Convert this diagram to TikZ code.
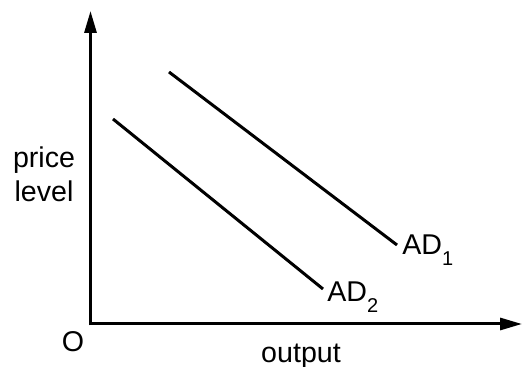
\documentclass[tikz,border=0pt]{standalone}
\usepackage{fontspec}
\setmainfont{Liberation Sans}
\usetikzlibrary{arrows.meta,positioning}

\begin{document}
\begin{tikzpicture}[x=0.5pt,y=-0.5pt,font=\fontsize{14.3}{17}\selectfont,
  axis/.style={line width=1.5pt,-{Triangle[length=11pt,width=6pt]}},
  curve/.style={line width=1.5pt},
  lbl/.style={inner sep=0pt,anchor=base west}]
\useasboundingbox (0,0) rectangle (523,367);
\coordinate (o) at (90.5,324);
\coordinate (ytop) at (90.5,11);
\coordinate (xend) at (522,324);
\draw[axis] ([yshift=-0.75pt]o) -- (ytop);
\draw[axis] ([xshift=-0.75pt]o) -- (xend);
% demand curves
\coordinate (ad1s) at (169,72);
\coordinate (ad1e) at (397,245);
\coordinate (ad2s) at (113,119);
\coordinate (ad2e) at (323,289);
\draw[curve] (ad1s) -- (ad1e);
\draw[curve] (ad2s) -- (ad2e);
\node[lbl] (ad1) at (402,255) {AD\raisebox{-5.5pt}{\fontsize{10}{10}\selectfont 1}};
\node[lbl] (ad2) at (327,302) {AD\raisebox{-5.5pt}{\fontsize{10}{10}\selectfont 2}};
\node[inner sep=0pt] (orig) at (73,342) {O};
\node[inner sep=0pt,anchor=base] (xlbl) at (301,362) {output};
\node[inner sep=0pt,align=center,anchor=base] (ylbl) at (44,202) {price\\level};
\end{tikzpicture}
\end{document}
